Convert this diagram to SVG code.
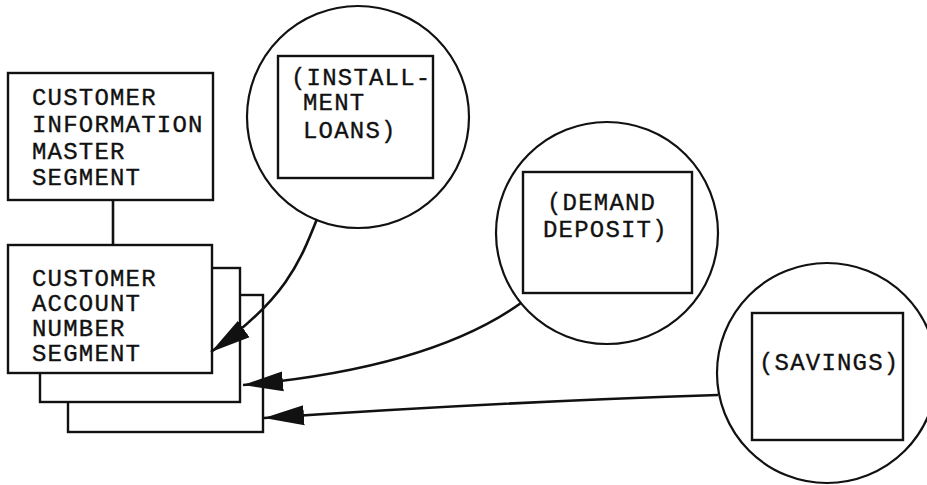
<svg xmlns="http://www.w3.org/2000/svg" width="927" height="485" viewBox="0 0 927 485">
<style>
.box{fill:#fff;stroke:#111;stroke-width:2.4}
.circ{fill:#fff;stroke:#111;stroke-width:2.2}
.t{font-family:"Liberation Mono","Courier New",monospace;font-size:24px;letter-spacing:1.2px;fill:#111;stroke:#111;stroke-width:0.35}
.conn{fill:none;stroke:#111;stroke-width:2.6}
</style>
<defs>
<marker id="arr" markerUnits="userSpaceOnUse" markerWidth="42" markerHeight="22" refX="40" refY="10" orient="auto" viewBox="0 0 42 20">
<path d="M0,0 L40,10 L0,20 z" fill="#111"/>
</marker>
</defs>
<rect width="927" height="485" fill="#fff"/>
<g id="stack">
<rect id="acct3" class="box" x="68" y="295" width="195" height="137"/>
<rect id="acct2" class="box" x="40" y="268" width="200" height="134"/>
</g>
<g id="master">
<rect class="box" x="8" y="73" width="205" height="127"/>
<text class="t" x="32" y="105">CUSTOMER</text>
<text class="t" x="32" y="132">INFORMATION</text>
<text class="t" x="32" y="159">MASTER</text>
<text class="t" x="32" y="185">SEGMENT</text>
</g>
<g id="account">
<rect class="box" x="8" y="245" width="204" height="128"/>
<text class="t" x="32" y="286">CUSTOMER</text>
<text class="t" x="32" y="311">ACCOUNT</text>
<text class="t" x="32" y="336">NUMBER</text>
<text class="t" x="32" y="361">SEGMENT</text>
</g>
<g id="installment">
<circle class="circ" cx="358" cy="117" r="111"/>
<rect class="box" x="278" y="56" width="155" height="122"/>
<text class="t" x="291" y="85">(INSTALL-</text>
<text class="t" x="303" y="110">MENT</text>
<text class="t" x="303" y="138">LOANS)</text>
</g>
<g id="demand">
<circle class="circ" cx="607" cy="233" r="111"/>
<rect class="box" x="523" y="172" width="169" height="121"/>
<text class="t" x="547" y="210">(DEMAND</text>
<text class="t" x="543" y="237">DEPOSIT)</text>
</g>
<g id="savings">
<circle class="circ" cx="827" cy="373" r="110"/>
<rect class="box" x="752" y="313" width="151" height="127"/>
<text class="t" x="759" y="370">(SAVINGS)</text>
</g>
<g id="connectors">
<line class="conn" x1="113" y1="200" x2="113" y2="245"/>
<path class="conn" d="M317,219 C300,262 285,300 211,352" marker-end="url(#arr)"/>
<path class="conn" d="M521,303 Q430,368 243,385" marker-end="url(#arr)"/>
<path class="conn" d="M718,395 Q500,402 264,418" marker-end="url(#arr)"/>
</g>
</svg>
